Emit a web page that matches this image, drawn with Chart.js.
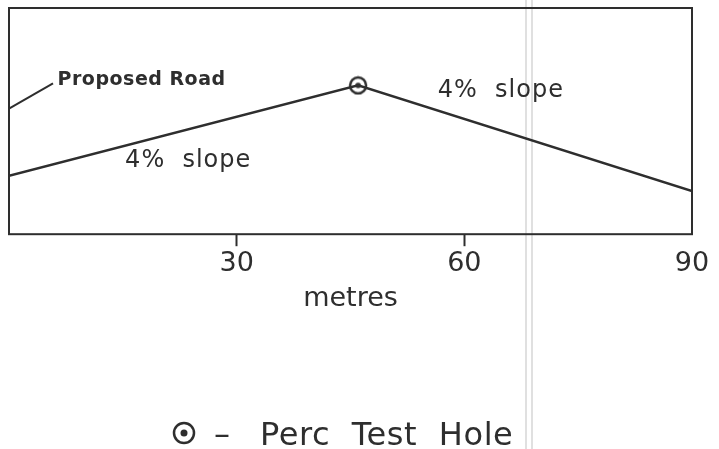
<!DOCTYPE html>
<html>
<head>
<meta charset="utf-8">
<script src="https://cdn.jsdelivr.net/npm/chart.js@4.4.1/dist/chart.umd.min.js"></script>
<style>
  html, body { margin: 0; padding: 0; background: #fff; }
  #wrap { width: 719px; height: 449px; }
</style>
</head>
<body>
<div id="wrap"><canvas id="myChart" width="719" height="449"></canvas></div>
<script>
// road profile, distance in metres, elevation in metres (arbitrary datum)
let distance = [0, 46, 90];
let elevation = [1.16, 2.96, 0.86];
let holeDistance = [46];
let holeElevation = [2.96];
let xTicks = [30, 60, 90];
let slopeLabels = ["4%  slope", "4%  slope"];

let ink = "#2e2e2e";
let font = "'DejaVu Sans', sans-serif";

// perc test hole symbol
function holeSymbol(r, dot) {
    let c = document.createElement("canvas");
    c.width = c.height = r * 2 + 4;
    let g = c.getContext("2d");
    g.strokeStyle = ink;
    g.fillStyle = ink;
    g.lineWidth = 2.5;
    g.beginPath();
    g.arc(r + 2, r + 2, r, 0, Math.PI * 2);
    g.stroke();
    g.beginPath();
    g.arc(r + 2, r + 2, dot, 0, Math.PI * 2);
    g.fill();
    return c;
}
let hole = holeSymbol(8, 2.8);
let legendHole = holeSymbol(10, 3.5);

let notes = {
    id: "notes",
    beforeDatasetsDraw(chart) {
        let { ctx, chartArea: a } = chart;
        ctx.save();
        // scan lines
        ctx.strokeStyle = "#d6d6d6";
        ctx.lineWidth = 1.5;
        [526, 532].forEach(x => {
            ctx.beginPath();
            ctx.moveTo(x, 0);
            ctx.lineTo(x, 449);
            ctx.stroke();
        });
        ctx.strokeStyle = ink;
        ctx.lineWidth = 2;
        ctx.strokeRect(a.left, a.top, a.right - a.left, a.bottom - a.top);
        ctx.restore();
    },
    afterDraw(chart) {
        let { ctx, scales: { x, y } } = chart;
        ctx.save();
        ctx.fillStyle = ink;
        ctx.strokeStyle = ink;
        ctx.textBaseline = "middle";
        // proposed road leader
        ctx.lineWidth = 2;
        ctx.beginPath();
        ctx.moveTo(x.getPixelForValue(0), y.getPixelForValue(2.5));
        ctx.lineTo(x.getPixelForValue(5.8), y.getPixelForValue(3.0));
        ctx.stroke();
        ctx.font = "bold 19px " + font;
        ctx.letterSpacing = "0.5px";
        ctx.fillText("Proposed Road", x.getPixelForValue(6.4), y.getPixelForValue(3.06));
        // slope notes
        ctx.font = "24px " + font;
        ctx.letterSpacing = "1px";
        ctx.fillText(slopeLabels[0], x.getPixelForValue(15.3), y.getPixelForValue(1.46));
        ctx.fillText(slopeLabels[1], x.getPixelForValue(56.5), y.getPixelForValue(2.86));
        // legend
        ctx.drawImage(legendHole, 184 - legendHole.width / 2, 433 - legendHole.height / 2);
        ctx.font = "32px " + font;
        ctx.textBaseline = "alphabetic";
        ctx.letterSpacing = "0px";
        ctx.fillText("–", 214, 445);
        ctx.letterSpacing = "0.6px";
        ctx.fillText("Perc  Test  Hole", 260, 445);
        ctx.restore();
    }
};

let chart = new Chart(document.getElementById("myChart"), {
    type: "line",
    data: {
        datasets: [{
            label: "Proposed Road",
            data: distance.map((d, i) => ({ x: d, y: elevation[i] })),
            borderColor: ink,
            borderWidth: 2.5,
            pointRadius: 0,
            tension: 0
        }, {
            label: "Perc Test Hole",
            data: holeDistance.map((d, i) => ({ x: d, y: holeElevation[i] })),
            pointStyle: hole,
            showLine: false
        }]
    },
    options: {
        responsive: false,
        animation: false,
        layout: { padding: { left: 9, top: 8, right: 27, bottom: 134 } },
        plugins: { legend: { display: false }, tooltip: { enabled: false } },
        scales: {
            x: {
                type: "linear",
                min: 0,
                max: 90,
                afterBuildTicks: axis => { axis.ticks = xTicks.map(v => ({ value: v })); },
                grid: {
                    drawOnChartArea: false,
                    tickLength: 12,
                    tickWidth: 2,
                    tickColor: c => c.tick && c.tick.value === 90 ? "rgba(0,0,0,0)" : ink
                },
                border: { display: false },
                ticks: { color: ink, font: { family: font, size: 27 }, padding: 2, maxRotation: 0 },
                title: { display: true, text: "metres", color: ink, font: { family: font, size: 27 }, padding: { top: 0, bottom: 0 } }
            },
            y: { display: false, min: 0, max: 4.5 }
        }
    },
    plugins: [notes]
});
</script>
</body>
</html>
